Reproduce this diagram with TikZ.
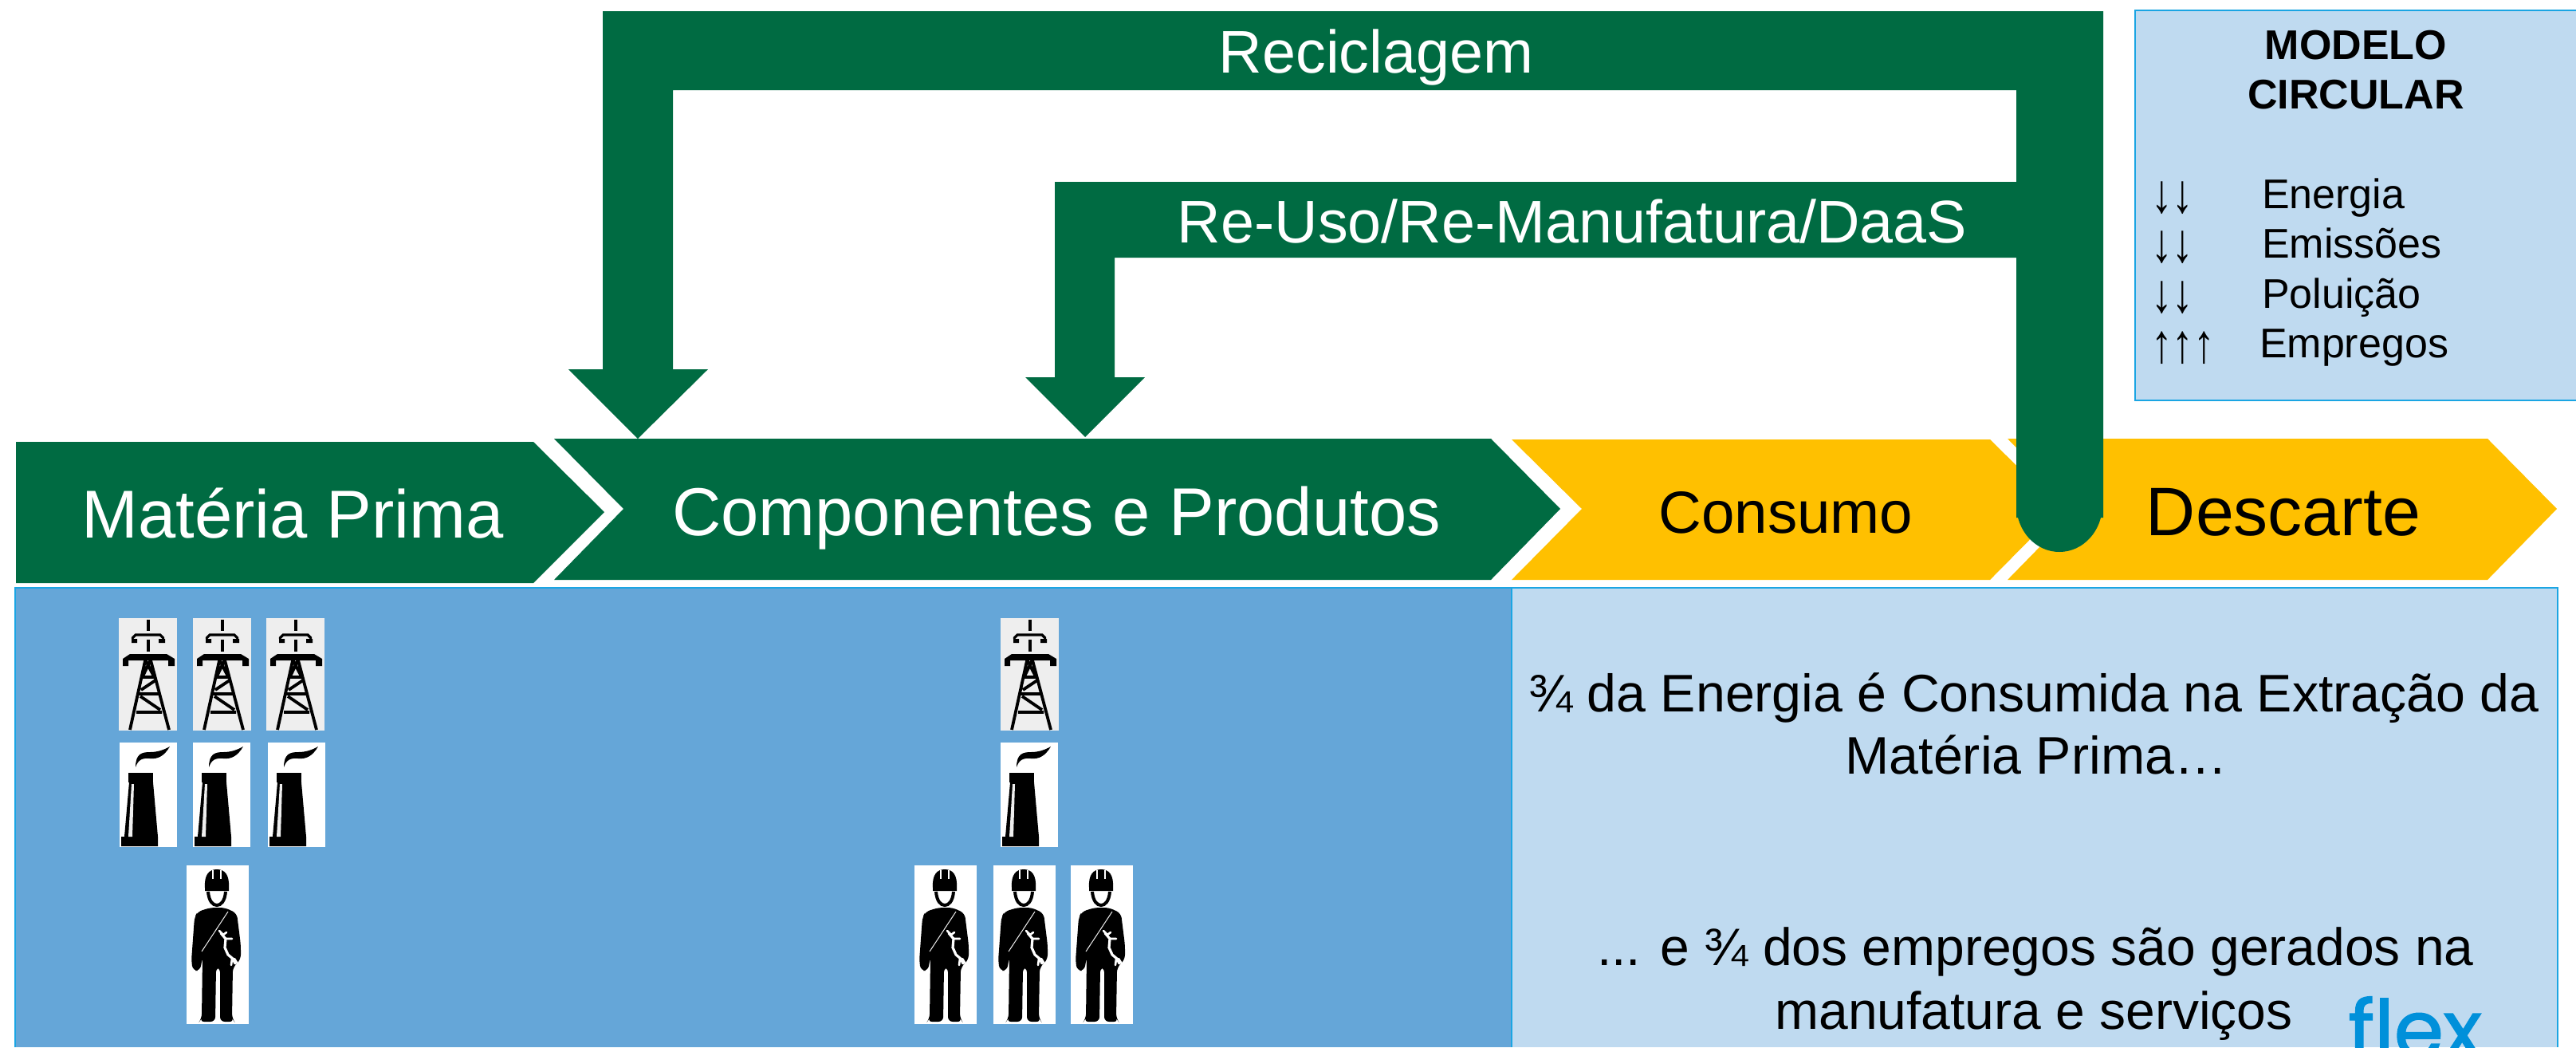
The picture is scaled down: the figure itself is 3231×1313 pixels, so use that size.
\documentclass[tikz,border=0pt]{standalone}
\usepackage{fontspec}
\setmainfont{Liberation Sans}
\newfontfamily\flexfont[FakeBold=1.6]{Poppins}
\definecolor{dgreen}{HTML}{006B42}
\definecolor{amber}{HTML}{FFC000}
\definecolor{midblue}{HTML}{65A6D8}
\definecolor{lightblue}{HTML}{BFDAF0}
\definecolor{edgeblue}{HTML}{1BA5E3}
\definecolor{flexblue}{HTML}{0090DA}
\definecolor{towerbg}{HTML}{EEEEEE}
\newcommand{\fsz}[1]{\fontsize{\the\dimexpr #1pt/2\relax}{\the\dimexpr #1pt*6/10\relax}\selectfont}
\newcommand{\tallarrows}[1]{\fsz{53}\scalebox{1}[1.3]{#1}}
\tikzset{
  x=0.5pt,y=-0.5pt,
  band/.style={fill=dgreen,draw=none},
  chevgreen/.style={fill=dgreen,draw=none},
  chevamber/.style={fill=amber,draw=none},
  panel/.style={draw=edgeblue,line width=1.2pt},
  lbl/.style={anchor=base,inner sep=0pt,outer sep=0pt,align=center},
  wire/.style={draw=black,line width=1.9pt},
  tower/.pic={
    \fill[towerbg] (0,0) rectangle (73,141);
    \draw[wire,line width=2pt] (36.5,2)--(36.5,16) (36.5,27)--(36.5,42);
    \draw[wire,line width=1.6pt,line cap=round] (17,25)--(21,21)--(52,21)--(56,25);
    \fill[black] (16,26) rectangle (23,31) (50,26) rectangle (58,31);
    \fill[black] (5,51)--(14,45)--(60,45)--(70,51)--(70,53)--(5,53)--cycle;
    \fill[black] (5,53) rectangle (12,60) (62,53) rectangle (70,60);
    \draw[wire] (34,49)--(14,140) (39,49)--(63,140)
      (29,74)--(44,74) (25,95)--(50,95) (22,118)--(54,118)
      (28,90)--(46,78) (27,98)--(52,115) (33,52)--(44,73) (40,52)--(30,73);
  },
  chimney/.pic={
    \fill[white] (0,0) rectangle (72,131);
    \fill[black] (20,31) .. controls (20,14) and (28,12) .. (38,12)
      .. controls (48,12) and (56,9) .. (63,5)
      .. controls (56,17) and (48,21) .. (38,20)
      .. controls (28,19) and (23,22) .. (20,31) -- cycle;
    \fill[black] (11,38) rectangle (42,50);
    \fill[black] (12,50)--(42,50)--(48,118)--(48,130)--(2,130)--(2,118)--(6,118)--cycle;
    \fill[towerbg] (15,52)--(18,52)--(16,118)--(11,118)--cycle;
  },
  worker/.pic={
    \fill[white] (0,0) rectangle (78,199);
    \fill[black] (23,28) .. controls (22,12) and (28,5) .. (38,5)
      .. controls (48,5) and (54,12) .. (53,28) -- (53,32) -- (23,32) -- cycle;
    \draw[white,line width=0.8pt] (33,6)--(33,17) (43,6)--(43,17);
    \draw[black,line width=2pt] (27,33) .. controls (28,45) and (33,50) .. (38,50)
      .. controls (43,50) and (48,45) .. (49,33);
    \fill[black,rounded corners=3pt] (30,53)--(48,53)--(63,60)--(68,100)--(68,118)--(58,128)
      --(57,192)--(60,196)--(42,196)--(42,128)--(37,128)--(36,196)--(16,196)--(19,192)
      --(20,115)--(17,132)--(8,132)--(6,120)--(10,65)--(14,58)--cycle;
    \draw[towerbg,line width=0.5pt] (52,58)--(19,108);
    \draw[white,line width=1.6pt,line cap=round] (43,85)--(49,92)--(48,103)--(52,112)--(58,117)--(61,123);
    \draw[white,line width=1.3pt,line cap=round] (41,82)--(46,87)--(50,84) (49,92)--(57,92) (57,117)--(56,125) (60,117)--(65,125);
  }
}
\begin{document}
\begin{tikzpicture}
\useasboundingbox (0,0) rectangle (3231,1313);
\fill[white] (0,0) rectangle (3231,1313);

% panels
\fill[midblue] (19,737) rectangle (1896,1313);
\draw[panel] (19,1313)--(19,737)--(1896,737)--(1896,1313);
\fill[lightblue] (1896,737) rectangle (3208,1313);
\draw[panel] (1896,1313)--(1896,737)--(3208,737)--(3208,1313);
\draw[panel,fill=lightblue] (3231,13)--(2678,13)--(2678,502)--(3231,502);

% chevrons
\fill[chevgreen] (20,554)--(669,554)--(758,642)--(669,731)--(20,731)--cycle;
\fill[chevgreen] (695,550)--(1870,550)--(1957,638)--(1870,727)--(695,727)--(782,638)--cycle;
\fill[chevamber] (1896,551)--(2496,551)--(2584,638)--(2496,727)--(1896,727)--(1984,638)--cycle;
\fill[chevamber] (2518,550)--(3120,550)--(3207,638)--(3120,727)--(2518,727)--(2605,638)--cycle;

% green feedback arrows
\fill[band] (2583,633) ellipse [x radius=54,y radius=59];
\fill[band] (756,14)--(2638,14)--(2638,649)--(2529,649)--(2529,323)--(1398,323)--(1398,473)
  --(1436,473)--(1361,548)--(1286,473)--(1323,473)--(1323,228)--(2529,228)--(2529,113)
  --(844,113)--(844,463)--(888,463)--(800,550)--(713,463)--(756,463)--cycle;

% texts
\node[lbl,text=white] (recic) at (1726,91) {\fsz{75.5}Reciclagem};
\node[lbl,text=white] (reuso) at (1972,304) {\fsz{75.5}Re-Uso/Re-Manufatura/DaaS};
\node[lbl,text=white] (mp) at (367,674) {\fsz{85}Matéria Prima};
\node[lbl,text=white] (cp) at (1325,671) {\fsz{85}Componentes e Produtos};
\node[lbl] (cons) at (2240,668) {\fsz{74.5}Consumo};
\node[lbl] (desc) at (2864,671) {\fsz{86}Descarte};

\node[lbl] (t1) at (2551,892) {\fsz{66.3}¾ da Energia é Consumida na Extração da};
\node[lbl] (t2) at (2554,970) {\fsz{66.3}Matéria Prima…};
\node[lbl] (t3) at (2553,1210) {\fsz{66}... e ¾ dos empregos são gerados na};
\node[lbl] (t4) at (2551,1290) {\fsz{66}manufatura e serviços};

\node[lbl] (mod1) at (2955,74) {\fsz{52}\bfseries MODELO};
\node[lbl] (mod2) at (2955,136) {\fsz{52}\bfseries CIRCULAR};
\node[lbl,anchor=base west] (e1) at (2837,261) {\fsz{52}Energia};
\node[lbl,anchor=base west] (e2) at (2837,323) {\fsz{52}Emissões};
\node[lbl,anchor=base west] (e3) at (2837,386) {\fsz{52}Poluição};
\node[lbl,anchor=base west] (e4) at (2834,448) {\fsz{52}Empregos};
\node[lbl,anchor=base west] (a1) at (2698,266) {\tallarrows{↓↓}};
\node[lbl,anchor=base west] (a2) at (2698,328) {\tallarrows{↓↓}};
\node[lbl,anchor=base west] (a3) at (2698,391) {\tallarrows{↓↓}};
\node[lbl,anchor=base west] (a4) at (2698,454) {\tallarrows{↑↑↑}};

% flex logo
\begin{scope}
\clip (2900,1230) rectangle (3207.5,1313);
\node[lbl,text=flexblue] (flex) at (3029,1326) {\flexfont\fontsize{50}{60}\selectfont flex};
\end{scope}

% icons
\path (149,775) pic {tower} (242,775) pic {tower} (334,775) pic {tower} (1255,775) pic {tower};
\path (150,931) pic {chimney} (242,931) pic {chimney} (336,931) pic {chimney} (1255,931) pic {chimney};
\path (234,1085) pic {worker} (1147,1085) pic {worker} (1246,1085) pic {worker} (1343,1085) pic {worker};
\end{tikzpicture}
\end{document}
